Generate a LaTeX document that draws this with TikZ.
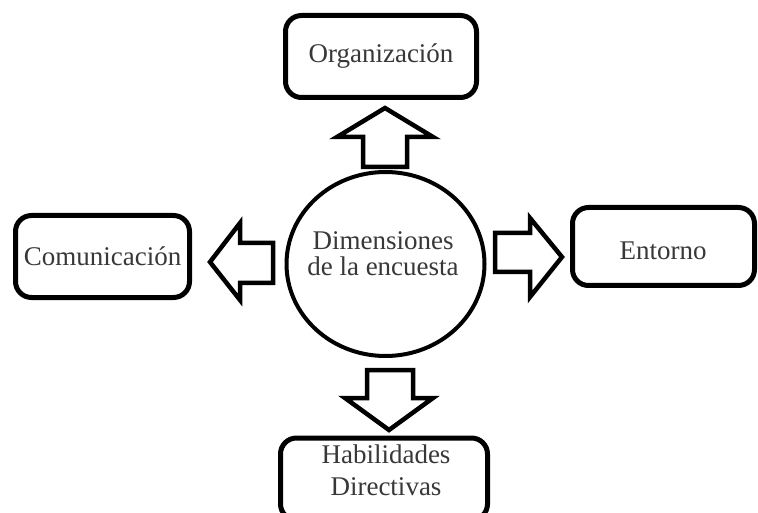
\documentclass[tikz,border=0pt]{standalone}
\usepackage{fontspec}
\setmainfont{Liberation Serif}
\usetikzlibrary{shapes.geometric}
\begin{document}
\begin{tikzpicture}[x=1pt,y=-1pt,
  box/.style={draw=black, line width=5pt, rounded corners=16pt, inner sep=0pt,
    text=black!78, font=\fontsize{27}{32}\selectfont, align=center},
  center/.style={draw=black, line width=4pt, ellipse, inner sep=0pt,
    minimum width=198pt, minimum height=184pt},
  label text/.style={text=black!78, font=\fontsize{27}{26}\selectfont, align=center, inner sep=0pt},
  blockarrow/.style={draw=black, line width=4.5pt, line join=miter, fill=white}]
\clip (0,0) rectangle (758,513);
\fill[white] (0,0) rectangle (758,513);

\node[center] (c) at (385.5,264) {};
\node[label text] (ct) at (383,254) {Dimensiones\\de la encuesta};

\node[box, minimum width=191pt, minimum height=82pt] (org) at (381,56.5) {Organización};
\node[box, minimum width=174pt, minimum height=82pt] (com) at (102.5,256.5) {Comunicación};
\node[box, minimum width=182pt, minimum height=78pt] (ent) at (663.5,246.5) {};
\node[label text] (entt) at (663,251) {Entorno};
\node[box, minimum width=207pt, minimum height=82pt] (hab) at (384,479) {};
\node[label text, font=\fontsize{27}{32}\selectfont] (habt) at (386,470) {Habilidades\\Directivas};

% block arrows
\draw[blockarrow] (385,108) -- (433,137) -- (407,137) -- (407,167) -- (363,167) -- (363,137) -- (337,137) -- cycle;
\draw[blockarrow] (210,262) -- (240,223) -- (240,243) -- (273,243) -- (273,283) -- (240,283) -- (240,300) -- cycle;
\draw[blockarrow] (562,257) -- (530,218) -- (530,233) -- (495,233) -- (495,272) -- (530,272) -- (530,297) -- cycle;
\draw[blockarrow] (389,430) -- (345,398) -- (367,398) -- (367,370) -- (413,370) -- (413,398) -- (433,398) -- cycle;
\end{tikzpicture}
\end{document}
